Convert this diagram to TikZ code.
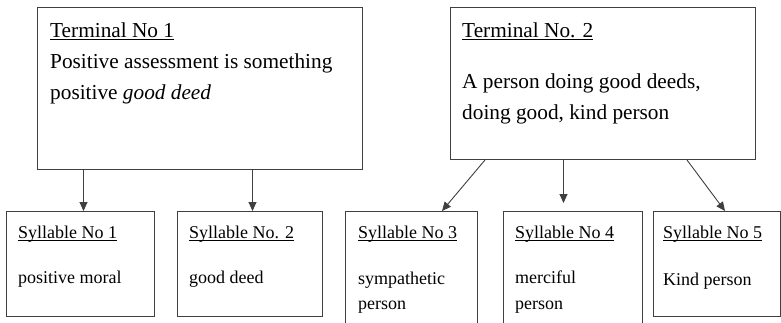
\documentclass[tikz,border=0pt]{standalone}
\usepackage{fontspec}
\setmainfont{Liberation Serif}
\usetikzlibrary{arrows.meta}
\newcommand\ulx[1]{\setbox0\hbox{#1}\rlap{\rule[-2.6pt]{\wd0}{0.9pt}}\box0}
\begin{document}
\begin{tikzpicture}[x=1pt,y=-1pt,
 boxn/.style={draw=black!75, line width=1pt, inner sep=0pt, anchor=north west},
 txt/.style={anchor=base west, inner sep=0pt, text=black},
 big/.style={font=\fontsize{21.3}{31}\selectfont},
 small/.style={font=\fontsize{18}{24}\selectfont},
 arr/.style={draw=black!75, line width=0.9pt, -{Triangle[length=9pt,width=8pt]}}]
\useasboundingbox (0,0) rectangle (781,322);
\fill[white] (0,0) rectangle (781,322);
\clip (0,0) rectangle (781,322);
% boxes
\node[boxn, minimum width=325pt, minimum height=162pt] (t1) at (37,7) {};
\node[boxn, minimum width=305pt, minimum height=152pt] (t2) at (450,7) {};
\node[boxn, minimum width=148pt, minimum height=105pt] (s1) at (6,211) {};
\node[boxn, minimum width=145pt, minimum height=105pt] (s2) at (177,211) {};
\node[boxn, minimum width=132pt, minimum height=140pt] (s3) at (345,211) {};
\node[boxn, minimum width=139pt, minimum height=140pt] (s4) at (503,211) {};
\node[boxn, minimum width=127pt, minimum height=105pt] (s5) at (653,211) {};
% terminal texts
\node[txt, big] (t1a) at (50,37) {\ulx{Terminal No 1}};
\node[txt, big] (t1b) at (50,68) {Positive assessment is something};
\node[txt, big] (t1c) at (50,99) {positive \textit{good deed}};
\node[txt, big] (t2a) at (462,37) {\ulx{Terminal No. 2}};
\node[txt, big] (t2b) at (462,88) {A person doing good deeds,};
\node[txt, big] (t2c) at (462,119) {doing good, kind person};
% syllable texts
\node[txt, small] (s1a) at (18,238) {\ulx{Syllable No 1}};
\node[txt, small] (s1b) at (18,283) {positive moral};
\node[txt, small] (s2a) at (189,238) {\ulx{Syllable No. 2}};
\node[txt, small] (s2b) at (189,283) {good deed};
\node[txt, small] (s3a) at (358,238) {\ulx{Syllable No 3}};
\node[txt, small] (s3b) at (358,284) {sympathetic};
\node[txt, small] (s3c) at (358,309) {person};
\node[txt, small] (s4a) at (515,238) {\ulx{Syllable No 4}};
\node[txt, small] (s4b) at (515,283) {merciful};
\node[txt, small] (s4c) at (515,309) {person};
\node[txt, small] (s5a) at (663,238) {\ulx{Syllable No 5}};
\node[txt, small] (s5b) at (663,285) {Kind person};
% connectors
\draw[arr] ([xshift=3pt]s1.north |- t1.south) -- ([xshift=3pt]s1.north);
\draw[arr] ([xshift=2.5pt]s2.north |- t1.south) -- ([xshift=2.5pt]s2.north);
\draw[arr] ([xshift=35pt]t2.south west) -- ([xshift=97pt]s3.north west);
\draw[arr, shorten >=8pt] ([xshift=-39.5pt]t2.south) -- ([xshift=-39.5pt]t2.south |- s4.north);
\draw[arr] ([xshift=-69pt]t2.south east) -- ([xshift=72pt]s5.north west);
\end{tikzpicture}
\end{document}
